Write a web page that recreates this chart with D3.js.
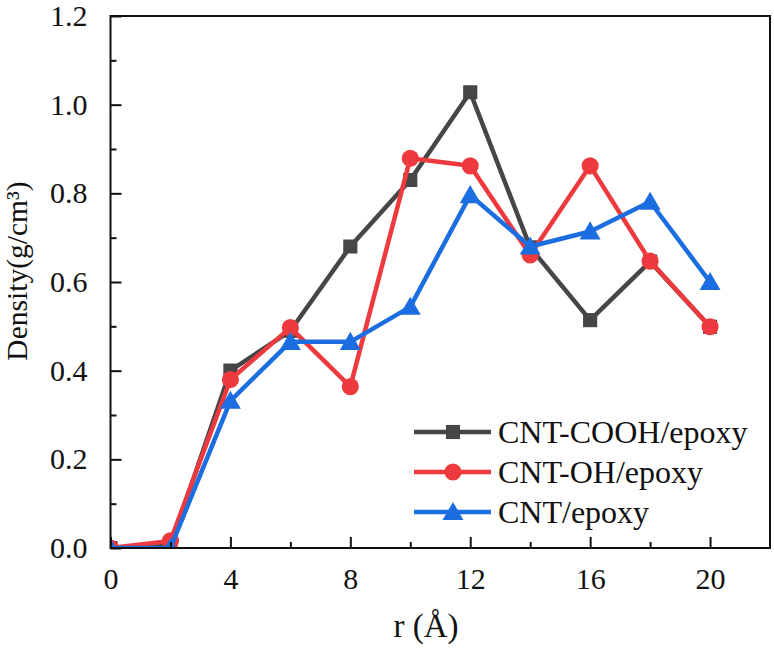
<!DOCTYPE html>
<html>
<head>
<meta charset="utf-8">
<script src="https://cdn.jsdelivr.net/npm/d3@7"></script>
<style>
  body { margin: 0; background: #fff; }
  svg { display: block; }
</style>
</head>
<body>
<svg id="chart" width="774" height="650"></svg>
<script>
const rValues = [0, 2, 4, 6, 8, 10, 12, 14, 16, 18, 20];
const cooh = [0.0, 0.005, 0.40, 0.49, 0.68, 0.83, 1.028, 0.678, 0.514, 0.646, 0.499];
const oh   = [0.0, 0.016, 0.38, 0.497, 0.364, 0.879, 0.862, 0.661, 0.862, 0.647, 0.499];
const cnt  = [0.0, 0.0, 0.332, 0.465, 0.465, 0.544, 0.796, 0.68, 0.714, 0.781, 0.60];
const seriesNames = ["CNT-COOH/epoxy", "CNT-OH/epoxy", "CNT/epoxy"];
const xTicks = [0, 4, 8, 12, 16, 20];
const xMinor = [2, 6, 10, 14, 18];
const yTicks = [0.0, 0.2, 0.4, 0.6, 0.8, 1.0, 1.2];
const yMinor = [0.1, 0.3, 0.5, 0.7, 0.9, 1.1];

const FONT = '"Liberation Serif", "Times New Roman", "DejaVu Serif", serif';
const colors = ["#464646", "#ee3a3e", "#1c6ee0"];
const shapes = [d3.symbolSquare, d3.symbolCircle, d3.symbolTriangle];
const sizes = [200, 230, 190];

const svg = d3.select("#chart");
const x = d3.scaleLinear().domain([0, 22]).range([110.5, 770]);
const y = d3.scaleLinear().domain([0, 1.2]).range([548, 16]);

const L = x.range()[0], R = x.range()[1], T = y.range()[1], B = y.range()[0];

svg.append("defs").append("clipPath").attr("id", "clip")
  .append("rect").attr("x", L).attr("y", T).attr("width", R - L).attr("height", B - T);

// data
const series = [cooh, oh, cnt];
const plot = svg.append("g").attr("clip-path", "url(#clip)");
series.forEach((vals, i) => {
  const pts = rValues.map((r, j) => [r, vals[j]]);
  const g = plot.append("g");
  g.append("path")
    .datum(pts)
    .attr("fill", "none")
    .attr("stroke", colors[i])
    .attr("stroke-width", 4.5)
    .attr("stroke-linejoin", "round")
    .attr("d", d3.line().x(d => x(d[0])).y(d => y(d[1])));
  g.selectAll("path.m").data(pts).enter().append("path")
    .attr("class", "m")
    .attr("transform", d => `translate(${x(d[0])},${y(d[1]) + (i === 2 ? 2 : 0)})`)
    .attr("d", d3.symbol().type(shapes[i]).size(sizes[i]))
    .attr("fill", colors[i]);
});

// frame
svg.append("rect").attr("x", L).attr("y", T).attr("width", R - L).attr("height", B - T)
  .attr("fill", "none").attr("stroke", "#111").attr("stroke-width", 2);

function styleTicks(g) {
  g.select(".domain").remove();
  g.attr("font-family", null).attr("font-size", null);
  g.selectAll(".tick line").attr("stroke", "#111").attr("stroke-width", 2);
  g.selectAll(".tick text").style("font-family", FONT).style("font-size", "30px").attr("fill", "#111");
}

// x axis
const gx = svg.append("g").attr("transform", `translate(0,${B})`)
  .call(d3.axisBottom(x).tickValues(xTicks).tickSize(-11).tickPadding(20).tickFormat(d3.format("d")));
styleTicks(gx);
const gxm = svg.append("g").attr("transform", `translate(0,${B})`)
  .call(d3.axisBottom(x).tickValues(xMinor).tickSize(-6).tickFormat(""));
styleTicks(gxm);

// y axis
const gy = svg.append("g").attr("transform", `translate(${L},0)`)
  .call(d3.axisLeft(y).tickValues(yTicks).tickSize(-11).tickPadding(23).tickFormat(d3.format(".1f")));
styleTicks(gy);
const gym = svg.append("g").attr("transform", `translate(${L},0)`)
  .call(d3.axisLeft(y).tickValues(yMinor).tickSize(-6).tickFormat(""));
styleTicks(gym);

// axis titles
svg.append("text").attr("x", 426).attr("y", 637).attr("text-anchor", "middle")
  .style("font-family", FONT).style("font-size", "33px").attr("fill", "#111").text("r (Å)");
svg.append("text").attr("transform", "translate(27,271) rotate(-90)").attr("text-anchor", "middle")
  .style("font-family", FONT).style("font-size", "29.5px").attr("fill", "#111").text("Density(g/cm³)");

// legend
const legY = [432, 472, 512];
seriesNames.forEach((name, i) => {
  const g = svg.append("g");
  g.append("line").attr("x1", 414).attr("x2", 491).attr("y1", legY[i]).attr("y2", legY[i])
    .attr("stroke", colors[i]).attr("stroke-width", 4.5);
  g.append("path").attr("transform", `translate(453,${legY[i] + (i === 2 ? 2 : 0)})`)
    .attr("d", d3.symbol().type(shapes[i]).size(sizes[i])).attr("fill", colors[i]);
  g.append("text").attr("x", 498).attr("y", legY[i] + 11)
    .style("font-family", FONT).style("font-size", "32px").attr("fill", "#111").text(name);
});
</script>
</body>
</html>
